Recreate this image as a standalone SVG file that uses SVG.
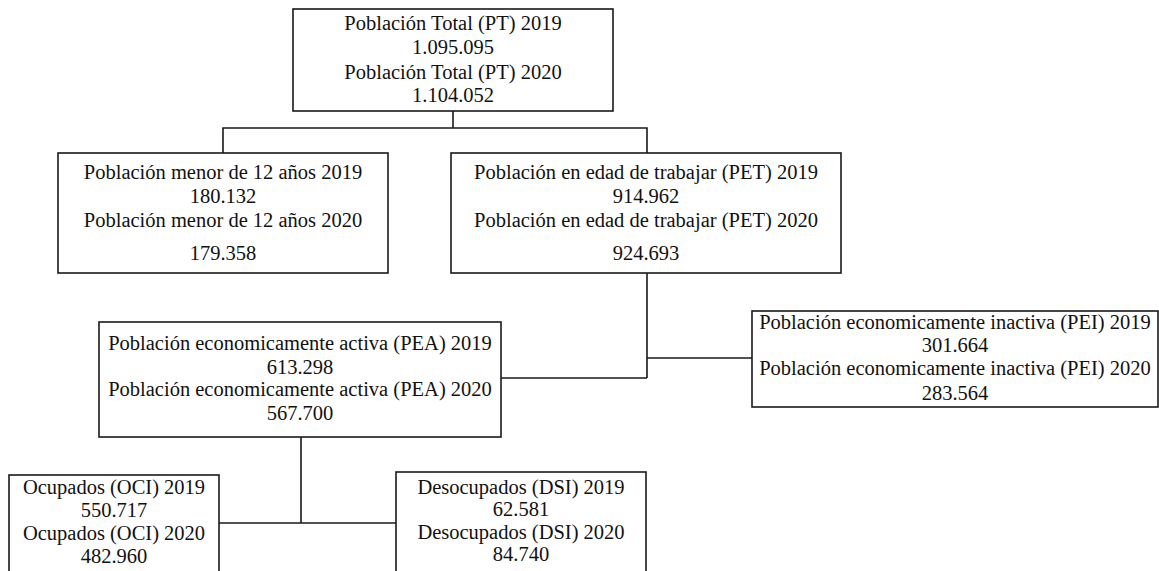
<svg xmlns="http://www.w3.org/2000/svg" width="1159" height="571" viewBox="0 0 1159 571">
<style>
.box{fill:#fff;stroke:#1a1a1a;stroke-width:1.6}
.t{font-family:"Liberation Serif","Times New Roman",serif;font-size:20.5px;fill:#111;text-anchor:middle}
.c{fill:none;stroke:#1a1a1a;stroke-width:1.6}
</style>
<rect width="1159" height="571" fill="#fff"/>
<g id="connectors">
<path class="c" d="M453,111V128M223,153V128H647V153M647,273V378M647,358H752M501,378H647M301,437V523M219,523H396"/>
</g>
<g id="pt">
<rect class="box" x="293" y="9" width="320" height="102"/>
<text class="t" x="453" y="30">Población Total (PT) 2019</text>
<text class="t" x="453" y="54">1.095.095</text>
<text class="t" x="453" y="79">Población Total (PT) 2020</text>
<text class="t" x="453" y="102">1.104.052</text>
</g>
<g id="menor12">
<rect class="box" x="58" y="153" width="330" height="120"/>
<text class="t" x="223" y="179">Población menor de 12 años 2019</text>
<text class="t" x="223" y="203">180.132</text>
<text class="t" x="223" y="227">Población menor de 12 años 2020</text>
<text class="t" x="223" y="260">179.358</text>
</g>
<g id="pet">
<rect class="box" x="451" y="153" width="390" height="120"/>
<text class="t" x="646" y="179">Población en edad de trabajar (PET) 2019</text>
<text class="t" x="646" y="203">914.962</text>
<text class="t" x="646" y="227">Población en edad de trabajar (PET) 2020</text>
<text class="t" x="646" y="260">924.693</text>
</g>
<g id="pea">
<rect class="box" x="99" y="322" width="402" height="115"/>
<text class="t" x="300" y="350">Población economicamente activa (PEA) 2019</text>
<text class="t" x="300" y="374">613.298</text>
<text class="t" x="300" y="396">Población economicamente activa (PEA) 2020</text>
<text class="t" x="300" y="420">567.700</text>
</g>
<g id="pei">
<rect class="box" x="752" y="311" width="406" height="96"/>
<text class="t" x="955" y="329">Población economicamente inactiva (PEI) 2019</text>
<text class="t" x="955" y="352">301.664</text>
<text class="t" x="955" y="375">Población economicamente inactiva (PEI) 2020</text>
<text class="t" x="955" y="400">283.564</text>
</g>
<g id="oci">
<rect class="box" x="9" y="475" width="210" height="110"/>
<text class="t" x="114" y="494">Ocupados (OCI) 2019</text>
<text class="t" x="114" y="517">550.717</text>
<text class="t" x="114" y="540">Ocupados (OCI) 2020</text>
<text class="t" x="114" y="563">482.960</text>
</g>
<g id="dsi">
<rect class="box" x="396" y="472" width="250" height="113"/>
<text class="t" x="521" y="494">Desocupados (DSI) 2019</text>
<text class="t" x="521" y="516">62.581</text>
<text class="t" x="521" y="539">Desocupados (DSI) 2020</text>
<text class="t" x="521" y="561">84.740</text>
</g>
</svg>
